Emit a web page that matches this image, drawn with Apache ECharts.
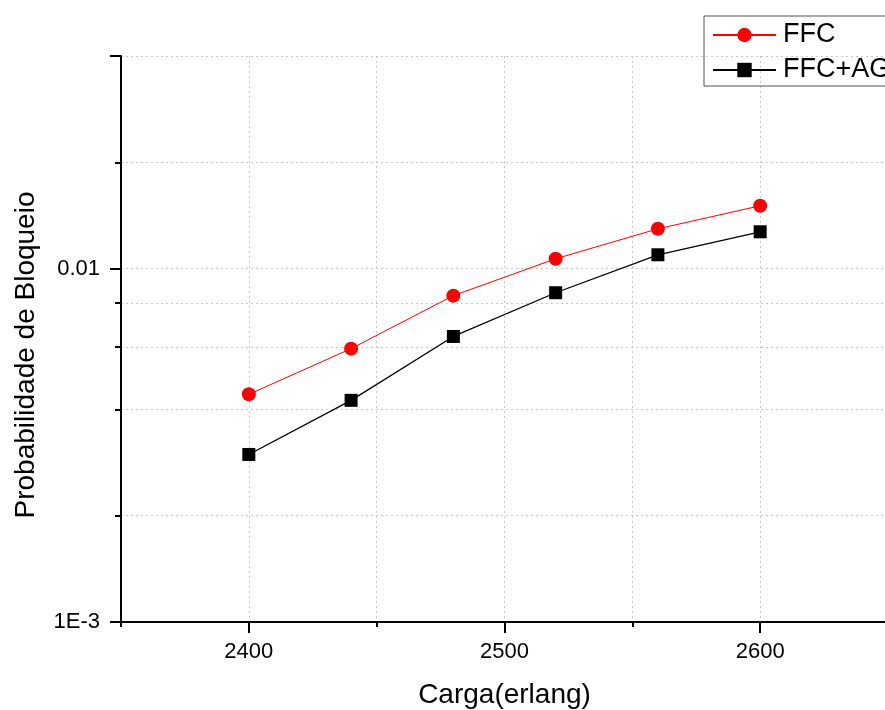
<!DOCTYPE html>
<html><head><meta charset="utf-8">
<script src="https://cdn.jsdelivr.net/npm/echarts@6/dist/echarts.min.js"></script>
<style>html,body{margin:0;padding:0;background:#fff}#c{width:885px;height:710px}</style>
</head><body><div id="c"></div>
<script>
var loads = [2400, 2440, 2480, 2520, 2560, 2600];
var ffc = [0.00441, 0.00594, 0.00839, 0.01067, 0.01297, 0.01507];
var ffcAg = [0.00298, 0.00424, 0.00643, 0.00855, 0.01095, 0.01272];
var xMajorTicks = [2400, 2500, 2600];
var yMinorTicks = [0.002, 0.004, 0.006, 0.008, 0.02, 0.04];
var seriesNames = ['FFC', 'FFC+AG'];

var font = 'Liberation Sans, Arial, sans-serif';
var grid = '#c8c8c8';
function pairs(v){ return loads.map(function(x,i){return [x, v[i]];}); }

var chart = echarts.init(document.getElementById('c'));
chart.setOption({
  animation: false,
  backgroundColor: '#fff',
  grid: {left: 121, top: 56, bottom: 88, width: 767, containLabel: false, outerBoundsMode: 'none'},
  legend: {
    orient: 'vertical', left: 704, top: 16,
    padding: [4, 8, 1, 8],
    borderColor: '#555', borderWidth: 1,
    itemWidth: 63, itemHeight: 18, itemGap: 5,
    textStyle: {fontFamily: font, fontSize: 27, color: '#000', lineHeight: 30, padding: [0,0,0,2]},
    data: seriesNames
  },
  xAxis: [{
    type: 'value', min: 2350, max: 2650, interval: 50,
    name: 'Carga(erlang)', nameLocation: 'middle', nameGap: 59,
    nameTextStyle: {fontFamily: font, fontSize: 28, color: '#000'},
    axisLine: {show: true, lineStyle: {color: '#000', width: 2}},
    axisTick: {show: true, inside: false, length: 5, lineStyle: {color: '#000', width: 2}},
    axisLabel: {customValues: xMajorTicks, fontFamily: font, fontSize: 22, color: '#000', margin: 19,
      formatter: function(v){ return String(Math.round(v)); }},
    splitLine: {show: true, lineStyle: {color: grid, type: [2, 3], width: 1}}
  }, {
    type: 'value', min: 2350, max: 2650, position: 'bottom',
    axisLine: {show: false},
    axisTick: {show: true, customValues: xMajorTicks, length: 11, lineStyle: {color: '#000', width: 2}},
    axisLabel: {show: false},
    splitLine: {show: false}
  }],
  yAxis: [{
    type: 'log', logBase: 10, min: 0.001, max: 0.04,
    name: 'Probabilidade de Bloqueio', nameLocation: 'middle', nameGap: 81,
    nameTextStyle: {fontFamily: font, fontSize: 28, color: '#000', padding: [0, 32, 0, 0]},
    axisLine: {show: true, lineStyle: {color: '#000', width: 2}},
    axisTick: {show: true, inside: false, length: 11, lineStyle: {color: '#000', width: 2}},
    axisLabel: {fontFamily: font, fontSize: 22, color: '#000', margin: 21,
      formatter: function(v){
        var l = Math.log(v)/Math.LN10, e = Math.round(l);
        if (Math.abs(l - e) > 1e-6) return '';
        return e === -2 ? '0.01' : (e === -1 ? '0.1' : '1E' + e);
      }},
    splitLine: {show: true, lineStyle: {color: grid, type: [2, 3], width: 1}}
  }, {
    type: 'log', logBase: 10, min: 0.001, max: 0.04, position: 'left',
    axisLine: {show: false},
    axisTick: {show: true, customValues: yMinorTicks, length: 6, lineStyle: {color: '#000', width: 2}},
    axisLabel: {show: false},
    splitLine: {show: true, lineStyle: {color: grid, type: [2, 3], width: 1}}
  }],
  series: [{
    name: seriesNames[0], type: 'line', data: pairs(ffc),
    symbol: 'circle', symbolSize: 14,
    lineStyle: {color: '#ff0000', width: 1},
    itemStyle: {color: '#ff0000'}, z: 3
  }, {
    name: seriesNames[1], type: 'line', data: pairs(ffcAg),
    symbol: 'rect', symbolSize: 13,
    lineStyle: {color: '#000', width: 1.3},
    itemStyle: {color: '#000'}, z: 3
  }]
});
</script></body></html>
